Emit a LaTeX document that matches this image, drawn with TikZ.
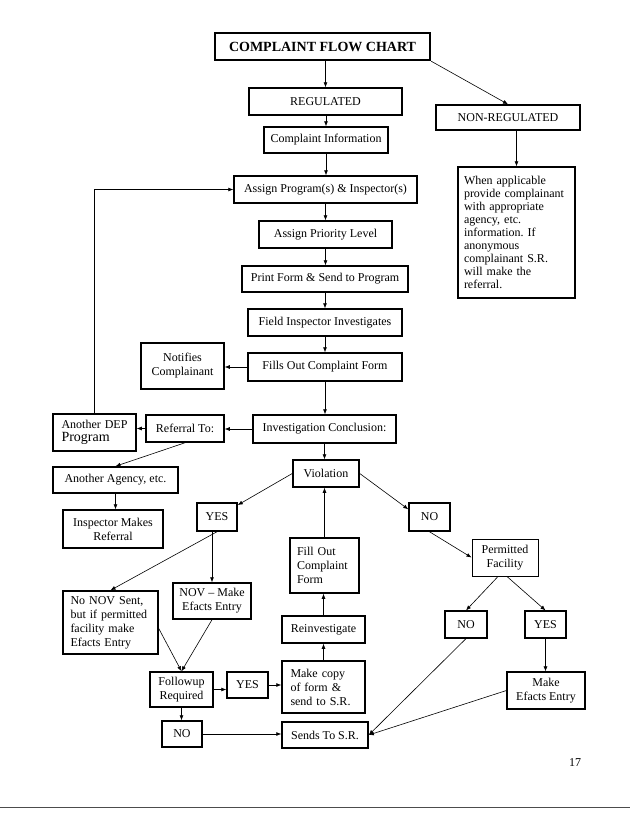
\documentclass[tikz,border=0pt]{standalone}
\usepackage{fontspec}
\setmainfont{Liberation Serif}
\usepackage{tikz}
\usetikzlibrary{arrows.meta, positioning, calc}

\newcommand{\boxfont}{\fontsize{12}{14}\selectfont}
\tikzset{
    box/.style={draw, line width=1.5pt, inner sep=2pt, align=center, font=\boxfont},
    flow/.style={-{Latex[length=5pt,width=4pt]}, line width=0.6pt},
}
\frenchspacing

\begin{document}
\begin{tikzpicture}[x=1pt, y=-1pt]
    \useasboundingbox (0,0) rectangle (630,815);

    % Top of the chart
    \node[box, line width=2.4pt, minimum width=215pt, minimum height=27pt, font=\fontsize{14}{16}\selectfont\bfseries] (title) at (322.5,46.5) {COMPLAINT FLOW CHART};
    \node[box, minimum width=153pt, minimum height=27pt] (reg) at (325.5,101.5) {REGULATED};
    \node[box, minimum width=144pt, minimum height=25pt] (nonreg) at (508,117.5) {NON-REGULATED};
    \node[box, minimum width=117pt, minimum height=131pt, text width=105pt, align=left, font=\fontsize{12}{13}\selectfont] (when) at (516.5,232.5) {When applicable\\provide complainant\\with appropriate\\agency, etc.\\information. If\\anonymous\\complainant S.R.\\will make the\\referral.};

    % Main column
    \node[box, minimum width=124pt, minimum height=26pt] (info) at (326,140) {Complaint Information};
    \node[box, minimum width=183pt, minimum height=27pt] (assign) at (325.5,189.5) {Assign Program(s) \& Inspector(s)};
    \node[box, minimum width=133pt, minimum height=27pt] (prio) at (325.5,234.5) {Assign Priority Level};
    \node[box, minimum width=166pt, minimum height=26pt] (print) at (325,279) {Print Form \& Send to Program};
    \node[box, minimum width=154pt, minimum height=27pt] (field) at (325,322.5) {Field Inspector Investigates};
    \node[box, minimum width=154pt, minimum height=28pt] (fills) at (325,367) {Fills Out Complaint Form};
    \node[box, minimum width=83pt, minimum height=46pt] (notify) at (182.5,366) {Notifies\\Complainant};
    \node[box, minimum width=143pt, minimum height=28pt] (concl) at (324.5,429) {Investigation Conclusion:};

    % Referral branch
    \node[box, minimum width=78pt, minimum height=27pt] (refer) at (185,428.5) {Referral To:};
    \node[box, minimum width=83pt, minimum height=37pt, text width=66pt, align=left] (dep) at (94.5,432.5) {Another DEP\\[-1pt]{\fontsize{14}{15}\selectfont Program}};
    \node[box, minimum width=125pt, minimum height=26pt] (agency) at (115.5,480) {Another Agency, etc.};
    \node[box, minimum width=100pt, minimum height=38pt] (insp) at (113,529) {Inspector Makes\\Referral};

    % Violation branch
    \node[box, minimum width=66pt, minimum height=27pt] (viol) at (326,473.5) {Violation};
    \node[box, minimum width=40pt, minimum height=28pt] (yesv) at (217,517) {YES};
    \node[box, minimum width=41pt, minimum height=28pt] (nov) at (429.5,517) {NO};
    \node[box, minimum width=69pt, minimum height=55pt, text width=55pt, align=left] (fillout) at (324.5,565.5) {Fill Out\\Complaint\\Form};
    \node[box, minimum width=78pt, minimum height=36pt] (novmake) at (212,601) {NOV -- Make\\Efacts Entry};
    \node[box, minimum width=95pt, minimum height=63pt, text width=80pt, align=left] (nonov) at (110.5,622.5) {No NOV Sent,\\but if permitted\\facility make\\Efacts Entry};
    \node[box, minimum width=83pt, minimum height=27pt] (reinv) at (323.5,629.5) {Reinvestigate};
    \node[box, minimum width=63pt, minimum height=35pt] (follow) at (181.5,689.5) {Followup\\Required};
    \node[box, minimum width=41pt, minimum height=26pt] (yesf) at (247.5,685) {YES};
    \node[box, minimum width=83pt, minimum height=52pt, text width=66pt, align=left] (copy) at (323.5,687) {Make copy\\of form \&\\send to S.R.};
    \node[box, minimum width=40pt, minimum height=26pt] (nof) at (182,734) {NO};
    \node[box, minimum width=86pt, minimum height=26pt] (sends) at (325,735) {Sends To S.R.};

    % Permitted facility branch
    \node[box, line width=1pt, minimum width=66pt, minimum height=37pt] (permit) at (505,557.5) {Permitted\\Facility};
    \node[box, line width=1.2pt, minimum width=42pt, minimum height=27pt] (nop) at (466,624.5) {NO};
    \node[box, line width=1.2pt, minimum width=41pt, minimum height=27pt] (yesp) at (545.5,624.5) {YES};
    \node[box, line width=1.2pt, minimum width=78pt, minimum height=37pt] (efacts) at (546,690.5) {Make\\Efacts Entry};

    % Page number and rule
    \node[font=\boxfont] (pagenum) at (575,763) {17};
    \draw[line width=0.8pt, black!70] (0,807) -- (630,807);

    % Connectors down the main column
    \draw[flow] (reg.north |- title.south) -- (reg.north);
    \draw[flow] (title.south east) -- (nonreg.north);
    \draw[flow] (when.north |- nonreg.south) -- (when.north);
    \draw[flow] (info.north |- reg.south) -- (info.north);
    \draw[flow] (info.south) -- (info.south |- assign.north);
    \draw[flow] (assign.south) -- (assign.south |- prio.north);
    \draw[flow] (prio.south) -- (prio.south |- print.north);
    \draw[flow] (print.south) -- (print.south |- field.north);
    \draw[flow] (field.south) -- (field.south |- fills.north);
    \draw[flow] (fills.west) -- (fills.west -| notify.east);
    \draw[flow] (fills.south) -- (fills.south |- concl.north);

    % Referral connectors
    \draw[flow] (concl.west) -- (concl.west -| refer.east);
    \draw[flow] (refer.west) -- (refer.west -| dep.east);
    \draw[flow] (refer.south) -- (agency.north);
    \draw[flow] (agency.south) -- (agency.south |- insp.north);
    \draw[flow] (dep.north) |- (assign.west);

    % Violation connectors
    \draw[flow] (concl.south) -- (concl.south |- viol.north);
    \draw[flow] (viol.west) -- (yesv.30);
    \draw[flow] (viol.east) -- (nov.160);
    \draw[flow] (yesv.south) -- (nonov.north);
    \draw[flow] (novmake.north |- yesv.south) -- (novmake.north);
    \draw[flow] (fillout.north) -- (fillout.north |- viol.south);
    \draw[flow] (reinv.north) -- (reinv.north |- fillout.south);
    \draw[flow] (copy.north) -- (copy.north |- reinv.south);
    \draw[flow] ($(nonov.east)+(0,6)$) -- (follow.north);
    \draw[flow] (novmake.south) -- (follow.north);
    \draw[flow] (follow.east) -- (follow.east -| yesf.west);
    \draw[flow] (yesf.east) -- (yesf.east -| copy.west);
    \draw[flow] (follow.south) -- (follow.south |- nof.north);
    \draw[flow] (nof.east) -- (nof.east -| sends.west);

    % Permitted facility connectors
    \draw[flow] (nov.south) -- (permit.west);
    \draw[flow] ($(permit.south)+(-7,0)$) -- (nop.north);
    \draw[flow] ($(permit.south)+(2,0)$) -- (yesp.north);
    \draw[flow] (yesp.south) -- (yesp.south |- efacts.north);
    \draw[flow] (nop.south) -- (sends.east);
    \draw[flow] (efacts.west) -- (sends.east);
\end{tikzpicture}
\end{document}
